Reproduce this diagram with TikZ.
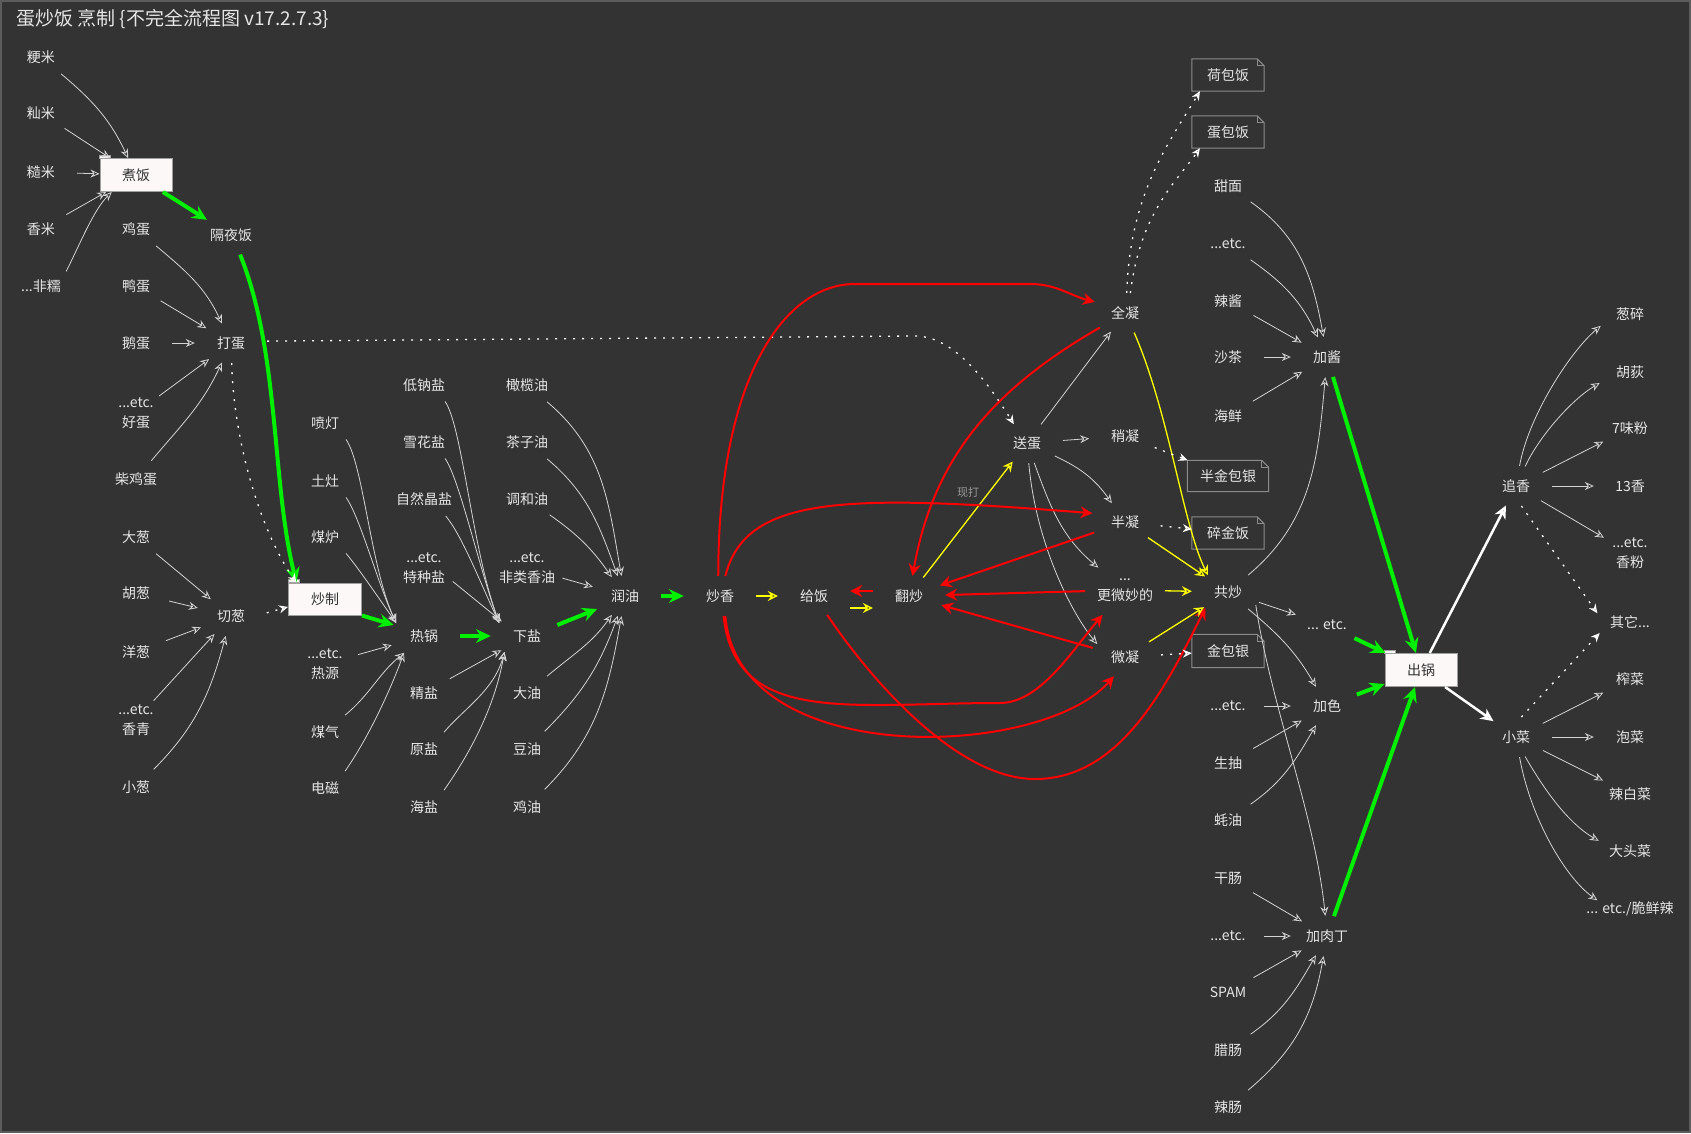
\documentclass[tikz,border=0pt]{standalone}
\usepackage{fontspec}
\setmainfont{Noto Sans CJK SC}
\usetikzlibrary{shapes.geometric,arrows.meta}
\definecolor{bg}{HTML}{333333}
\definecolor{bord}{HTML}{5C5C5C}
\definecolor{txtc}{HTML}{E6E6E6}
\definecolor{edgec}{HTML}{D4D4D4}
\definecolor{gr}{HTML}{00F000}
\definecolor{rd}{HTML}{FF0000}
\definecolor{yl}{HTML}{FFFF00}
\definecolor{boxf}{HTML}{FCF8F8}
\definecolor{boxb}{HTML}{A0A0A0}
\definecolor{boxt}{HTML}{333333}
\definecolor{noteb}{HTML}{8C8C8C}
\definecolor{labc}{HTML}{9A9A9A}
\tikzset{
  tnode/.style={ellipse, inner sep=0pt, minimum width=72pt, minimum height=40pt, text=txtc, align=center, font=\fontsize{14}{20}\selectfont},
  fbox/.style={rectangle, draw=boxb, fill=boxf, text=boxt, line width=1pt, minimum width=72pt, minimum height=33pt, inner sep=0pt, font=\fontsize{14}{20}\selectfont},
  nnode/.style={rectangle, minimum width=72pt, minimum height=32pt, inner sep=0pt, text=txtc, font=\fontsize{14}{20}\selectfont},
  labn/.style={inner sep=0pt, text=labc, font=\fontsize{11}{13}\selectfont},
  wa/.style={draw=edgec, line width=0.8pt, -{Stealth[open, length=9pt, width=8pt, inset=3pt]}},
  dt/.style={draw=white, line width=1.3pt, dash pattern=on 2pt off 7pt, -{Stealth[open, length=9pt, width=8pt, inset=3pt]}},
  ga/.style={draw=gr, line width=4pt, -{Stealth[length=15pt, width=14pt, inset=5pt]}},
  ra/.style={draw=rd, line width=2pt, -{Stealth[length=12pt, width=12pt, inset=4pt]}},
  ya/.style={draw=yl, line width=1.3pt, -{Stealth[open, length=10pt, width=10pt, inset=3.5pt]}},
  wt/.style={draw=white, line width=2.5pt, -{Stealth[open, length=13pt, width=12pt, inset=4pt]}},
}
\begin{document}
\begin{tikzpicture}[x=1pt, y=-1pt]
\path[use as bounding box] (0,0) rectangle (1691,1133);
\fill[bg] (0,0) rectangle (1691,1133);
\draw[bord, line width=2pt] (1,1) rectangle (1690,1132);

\node[anchor=west, inner sep=0pt, text=txtc, font=\fontsize{19}{23}\selectfont] (title) at (16,19) {蛋炒饭 烹制 \{不完全流程图 v17.2.7.3\}};

% column A
\node[tnode] (r1) at (41,57) {粳米};
\node[tnode] (r2) at (41,113) {籼米};
\node[tnode] (r3) at (41,172) {糙米};
\node[tnode] (r4) at (41,229) {香米};
\node[tnode] (r5) at (41,286) {...非糯};
% column B
\node[fbox] (cook) at (136,175) {煮饭};
\node[tnode] (e1) at (136,229) {鸡蛋};
\node[tnode] (e2) at (136,286) {鸭蛋};
\node[tnode] (e3) at (136,343) {鹅蛋};
\node[tnode] (e4) at (136,413) {...etc.\\好蛋};
\node[tnode] (e5) at (136,479) {柴鸡蛋};
\node[tnode] (o1) at (136,537) {大葱};
\node[tnode] (o2) at (136,593) {胡葱};
\node[tnode] (o3) at (136,652) {洋葱};
\node[tnode] (o4) at (136,720) {...etc.\\香青};
\node[tnode] (o5) at (136,787) {小葱};
% column C
\node[tnode] (night) at (231,235) {隔夜饭};
\node[tnode] (beat) at (231,343) {打蛋};
\node[tnode] (cut) at (231,616) {切葱};
% column D
\node[tnode] (h1) at (325,423) {喷灯};
\node[tnode] (h2) at (325,481) {土灶};
\node[tnode] (h3) at (325,537) {煤炉};
\node[fbox, minimum width=73pt, minimum height=32pt] (fry) at (325,599) {炒制};
\node[tnode] (h4) at (325,664) {...etc.\\热源};
\node[tnode] (h5) at (325,732) {煤气};
\node[tnode] (h6) at (325,788) {电磁};
% column E
\node[tnode] (s1) at (424,385) {低钠盐};
\node[tnode] (s2) at (424,442) {雪花盐};
\node[tnode] (s3) at (424,499) {自然晶盐};
\node[tnode] (s4) at (424,568) {...etc.\\特种盐};
\node[tnode] (pan) at (424,636) {热锅};
\node[tnode] (s5) at (424,693) {精盐};
\node[tnode] (s6) at (424,749) {原盐};
\node[tnode] (s7) at (424,807) {海盐};
% column F
\node[tnode] (l1) at (527,385) {橄榄油};
\node[tnode] (l2) at (527,442) {茶子油};
\node[tnode] (l3) at (527,499) {调和油};
\node[tnode] (l4) at (527,568) {...etc.\\非类香油};
\node[tnode] (salt) at (527,636) {下盐};
\node[tnode] (l5) at (527,693) {大油};
\node[tnode] (l6) at (527,749) {豆油};
\node[tnode] (l7) at (527,807) {鸡油};
% middle
\node[tnode] (oil) at (625,596) {润油};
\node[tnode] (aroma) at (720,596) {炒香};
\node[tnode] (rice) at (814,596) {给饭};
\node[tnode] (toss) at (909,596) {翻炒};
\node[tnode] (egg) at (1027,443) {送蛋};
\node[tnode] (full) at (1125,313) {全凝};
\node[tnode] (slight) at (1125,436) {稍凝};
\node[tnode] (half) at (1125,522) {半凝};
\node[tnode, minimum height=60pt] (subtle) at (1125,590) {...\\更微妙的};
\node[tnode] (micro) at (1125,657) {微凝};
\node[labn] (xd) at (968,492) {现打};
% column G
\node[nnode] (n1) at (1228,75) {荷包饭};
\node[nnode] (n2) at (1228,132) {蛋包饭};
\node[tnode] (g1) at (1228,186) {甜面};
\node[tnode] (g2) at (1228,244) {...etc.};
\node[tnode] (g3) at (1228,301) {辣酱};
\node[tnode] (g4) at (1228,357) {沙茶};
\node[tnode] (g5) at (1228,416) {海鲜};
\node[nnode, minimum width=81pt, minimum height=31pt] (n3) at (1228,476) {半金包银};
\node[nnode] (n4) at (1228,533) {碎金饭};
\node[tnode] (mix) at (1228,592) {共炒};
\node[nnode, minimum height=33pt] (n5) at (1228,651) {金包银};
\node[tnode] (c1) at (1228,706) {...etc.};
\node[tnode] (c2) at (1228,763) {生抽};
\node[tnode] (c3) at (1228,820) {蚝油};
\node[tnode] (m1) at (1228,878) {干肠};
\node[tnode] (m2) at (1228,936) {...etc.};
\node[tnode] (m3) at (1228,992) {SPAM};
\node[tnode] (m4) at (1228,1050) {腊肠};
\node[tnode] (m5) at (1228,1107) {辣肠};
% column H
\node[tnode] (sauce) at (1327,357) {加酱};
\node[tnode] (etc) at (1327,625) {... etc.};
\node[tnode] (color) at (1327,706) {加色};
\node[tnode] (meat) at (1327,936) {加肉丁};
\node[fbox] (out) at (1421,670) {出锅};
% column I, J
\node[tnode] (chase) at (1516,486) {追香};
\node[tnode] (side) at (1516,737) {小菜};
\node[tnode] (t1) at (1630,314) {葱碎};
\node[tnode] (t2) at (1630,372) {胡荻};
\node[tnode] (t3) at (1630,428) {7味粉};
\node[tnode] (t4) at (1630,486) {13香};
\node[tnode] (t5) at (1630,553) {...etc.\\香粉};
\node[tnode] (other) at (1630,622) {其它...};
\node[tnode] (t6) at (1630,679) {榨菜};
\node[tnode] (t7) at (1630,737) {泡菜};
\node[tnode] (t8) at (1630,794) {辣白菜};
\node[tnode] (t9) at (1630,851) {大头菜};
\node[tnode, inner xsep=-22pt] (t10) at (1630,909) {... etc./脆鲜辣};

% folder tabs and note outlines
\foreach \b in {cook,fry,out}{
  \draw[draw=boxb, fill=boxf, line width=0.8pt] (\b.north west) rectangle ++(11pt,3pt);
}
\foreach \n in {n1,n2,n3,n4,n5}{
  \draw[noteb, line width=1pt] (\n.north west) -- ([xshift=-7pt]\n.north east) -- ([yshift=-7pt]\n.north east) -- (\n.south east) -- (\n.south west) -- cycle;
  \draw[noteb, line width=0.8pt] ([xshift=-7pt]\n.north east) |- ([yshift=-7pt]\n.north east);
}

% rice
\draw[wa] (r1) to[out=-40,in=115] (cook);
\draw[wa] (r2) -- (cook);
\draw[wa] (r3) -- (cook);
\draw[wa] (r4) -- (cook);
\draw[wa] (r5.30) .. controls +(15,-30) and +(-18,18) .. (cook.-145);
\draw[ga] (cook) -- (night);
\draw[ga] (night.-65) .. controls +(40,100) and +(-25,-100) .. (fry.150);
% eggs
\draw[wa] (e1) to[out=-40,in=115] (beat);
\draw[wa] (e2) -- (beat);
\draw[wa] (e3) -- (beat);
\draw[wa] (e4) -- (beat);
\draw[wa] (e5) to[out=50,in=-115] (beat);
\draw[dt] (beat.-88) .. controls +(2,80) and +(-35,-50) .. (fry.150);
\coordinate (wp1) at (915,336);
\draw[dt] (beat.3) -- (wp1) .. controls +(40,0) and +(-25,-40) .. (egg.125);
% onions
\draw[wa] (o1) -- (cut);
\draw[wa] (o2) -- (cut);
\draw[wa] (o3) -- (cut);
\draw[wa] (o4) -- (cut);
\draw[wa] (o5) to[out=45,in=-105] (cut);
\draw[dt] (cut.5) -- (fry.-168);
% heat
\draw[wa] (h1.-38) .. controls +(-55:30pt) and +(115:60pt) .. (pan.155);
\draw[wa] (h2.-38) .. controls +(-55:25pt) and +(115:45pt) .. (pan.155);
\draw[wa] (h3.-38) .. controls +(-50:20pt) and +(125:30pt) .. (pan.155);
\draw[ga] (fry.south east) -- (pan.160);
\draw[wa] (h4) -- (pan);
\draw[wa] (h5) to[out=40,in=-140] (pan);
\draw[wa] (h6.40) .. controls +(55:40pt) and +(-110:40pt) .. (pan.-140);
\draw[ga] (pan) -- (salt);
% salts
\draw[wa] (s1.-38) .. controls +(-55:30pt) and +(110:80pt) .. (salt.155);
\draw[wa] (s2.-38) .. controls +(-55:25pt) and +(110:60pt) .. (salt.155);
\draw[wa] (s3.-38) .. controls +(-50:25pt) and +(115:45pt) .. (salt.155);
\draw[wa] (s4.-25) -- (salt.150);
\draw[wa] (s5) -- (salt);
\draw[wa] (s6.40) .. controls +(50:30pt) and +(-105:40pt) .. (salt.-145);
\draw[wa] (s7.40) .. controls +(55:40pt) and +(-100:60pt) .. (salt.-145);
\draw[ga] (salt.20) -- (oil.205);
% oils
\draw[wa] (l1) to[out=-40,in=100] (oil);
\draw[wa] (l2) to[out=-40,in=110] (oil);
\draw[wa] (l3) to[out=-35,in=125] (oil);
\draw[wa] (l4) -- (oil);
\draw[wa] (l5) to[out=40,in=-125] (oil);
\draw[wa] (l6) to[out=45,in=-110] (oil);
\draw[wa] (l7) to[out=45,in=-100] (oil);
\draw[ga] (oil) -- (aroma);
% middle
\draw[ya] (aroma) -- (rice);
\draw[ya] ([yshift=-12pt]rice.east) -- ([yshift=-12pt]toss.west);
\draw[ra] ([yshift=5pt]toss.west) -- ([yshift=5pt]rice.east);
\draw[ya] (toss) -- (egg);
\draw[wa] (egg) -- (full);
\draw[wa] (egg) -- (slight);
\draw[wa] (egg) to[out=-25,in=125] (half);
\draw[wa] (egg) to[out=-70,in=140] (subtle);
\draw[wa] (egg.-85) .. controls +(-85:80pt) and +(130:40pt) .. (micro.155);
% red
\coordinate (wpA) at (855,284);
\coordinate (wpB) at (1030,284);
\draw[ra] (aroma.95) .. controls +(0,-200) and +(-70,0) .. (wpA) -- (wpB) to[out=0,in=165] (full.160);
\draw[ra] (full.-150) to[out=-150,in=80] (toss);
\draw[ra] (aroma.75) .. controls +(20,-80) and +(-250,-20) .. (half.165);
\draw[ra] (half) -- (toss);
\draw[ra] (subtle) -- (toss);
\draw[ra] (micro) -- (toss);
\coordinate (wpD) at (1000,703);
\draw[ra] (aroma.-80) .. controls +(12,110) and +(-150,0) .. (wpD) .. controls +(40,0) and +(-30,35) .. (subtle.-132);
\draw[ra] (aroma.-75) .. controls +(13,154) and +(-73,83) .. (micro.-120);
\coordinate (wpF) at (1035,779);
\draw[ra] (rice.-55) .. controls +(40,60) and +(-80,0) .. (wpF) .. controls +(85,0) and +(-40,80) .. (mix.-145);
% yellow
\draw[ya] (full.-65) .. controls +(35,80) and +(-25,-50) .. (mix.140);
\draw[ya] (half) -- (mix);
\draw[ya] (subtle) -- (mix);
\draw[ya] (micro) -- (mix);
% dotted to notes
\draw[dt] (full.85) .. controls +(3,-100) and +(-30,50) .. (n1.-150);
\draw[dt] (full.75) .. controls +(10,-80) and +(-25,35) .. (n2.-150);
\draw[dt] (slight) -- (n3);
\draw[dt] (half) -- (n4);
\draw[dt] (micro) -- (n5);
% sauce / colour / meat
\draw[wa] (g1) to[out=-35,in=100] (sauce);
\draw[wa] (g2) to[out=-35,in=115] (sauce);
\draw[wa] (g3) -- (sauce);
\draw[wa] (g4) -- (sauce);
\draw[wa] (g5) -- (sauce);
\draw[wa] (mix) to[out=40,in=-95] (sauce);
\draw[wa] (mix) -- (etc);
\draw[wa] (mix) to[out=-40,in=120] (color);
\draw[wa] (mix.-25) .. controls +(15,100) and +(-10,-100) .. (meat.95);
\draw[wa] (c1) -- (color);
\draw[wa] (c2) -- (color);
\draw[wa] (c3) to[out=35,in=-120] (color);
\draw[wa] (m1) -- (meat);
\draw[wa] (m2) -- (meat);
\draw[wa] (m3) -- (meat);
\draw[wa] (m4) to[out=35,in=-120] (meat);
\draw[wa] (m5) to[out=40,in=-100] (meat);
% to out
\draw[ga] (sauce) -- (out);
\draw[ga] (etc) -- (out);
\draw[ga] (color) -- (out);
\draw[ga] (meat) -- (out);
\draw[wt] (out) -- (chase);
\draw[wt] (out) -- (side);
% right side
\draw[wa] (chase.80) .. controls +(80:50pt) and +(-140:40pt) .. (t1.-158);
\draw[wa] (chase.65) .. controls +(65:35pt) and +(-150:30pt) .. (t2.-160);
\draw[wa] (chase) -- (t3);
\draw[wa] (chase) -- (t4);
\draw[wa] (chase) -- (t5);
\draw[dt] (chase.-75) -- (other.165);
\draw[dt] (side.75) -- (other.-160);
\draw[wa] (side) -- (t6);
\draw[wa] (side) -- (t7);
\draw[wa] (side) -- (t8);
\draw[wa] (side.-65) .. controls +(-60:40pt) and +(150:35pt) .. (t9.162);
\draw[wa] (side.-80) .. controls +(-80:60pt) and +(145:40pt) .. (t10.165);
\end{tikzpicture}
\end{document}
